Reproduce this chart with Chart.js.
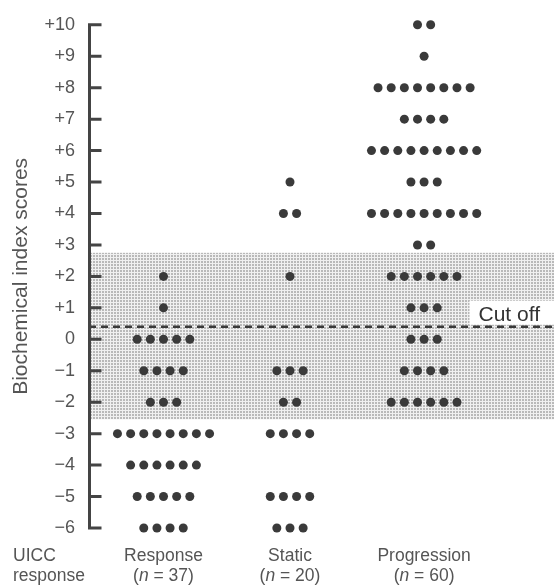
<!DOCTYPE html>
<html>
<head>
<meta charset="utf-8">
<script src="https://cdn.jsdelivr.net/npm/chart.js@4"></script>
<style>
  html, body { margin: 0; padding: 0; background: #fff; }
  #wrap { width: 554px; height: 586px; }
</style>
</head>
<body>
<div id="wrap"><canvas id="BiochemChart"></canvas></div>
<script>
// number of patients at each biochemical index score, per UICC response group
const scoreLevels       = [10, 9, 8, 7, 6, 5, 4, 3, 2, 1, 0, -1, -2, -3, -4, -5, -6];
const responseCounts    = [0, 0, 0, 0, 0, 0, 0, 0, 1, 1, 5, 4, 3, 8, 6, 5, 4];
const staticCounts      = [0, 0, 0, 0, 0, 1, 2, 0, 1, 0, 0, 3, 2, 4, 0, 4, 3];
const progressionCounts = [2, 1, 8, 4, 9, 3, 9, 2, 6, 3, 3, 4, 6, 0, 0, 0, 0];
const groupNames = ['Response', 'Static', 'Progression'];
const groupSizes = [37, 20, 60];
const cutOff = 0.4;
const bandTop = 2.75;
const bandBottom = -2.55;

const FONT = '"Liberation Sans", Arial, sans-serif';
const TEXT = '#555';

// where each group sits on the x scale and how far apart the dots are
const groupCentre = [1, 2, 3.06];
const dotStep = 0.104;

function buildDots(counts, g) {
  const pts = [];
  counts.forEach((n, i) => {
    for (let k = 0; k < n; k++) {
      pts.push({ x: groupCentre[g] + (k - (n - 1) / 2) * dotStep, y: scoreLevels[i] });
    }
  });
  return pts;
}

// small halftone tile for the shaded band
function dotScreen() {
  const c = document.createElement('canvas');
  c.width = 3; c.height = 3;
  const g = c.getContext('2d');
  g.fillStyle = '#f0f0f0';
  g.fillRect(0, 0, 3, 3);
  g.fillStyle = '#b9b9b9';
  g.fillRect(0, 0, 2, 2);
  return c;
}

const figureMarks = {
  id: 'figureMarks',
  beforeDatasetsDraw(chart) {
    const { ctx, chartArea: a, scales: { y } } = chart;
    const right = chart.width;
    ctx.save();

    // shaded band
    const t = y.getPixelForValue(bandTop), b = y.getPixelForValue(bandBottom);
    ctx.fillStyle = ctx.createPattern(dotScreen(), 'repeat');
    ctx.fillRect(a.left, t, right - a.left, b - t);

    // cut off line
    const cy = y.getPixelForValue(cutOff);
    ctx.strokeStyle = '#3a3a3a';
    ctx.lineWidth = 2.5;
    ctx.setLineDash([7, 5]);
    ctx.beginPath();
    ctx.moveTo(a.left, cy);
    ctx.lineTo(right, cy);
    ctx.stroke();
    ctx.setLineDash([]);

    ctx.font = '21px ' + FONT;
    const w = ctx.measureText('Cut off').width;
    ctx.fillStyle = '#fff';
    ctx.fillRect(right - w - 23, cy - 26, w + 23, 24);
    ctx.fillStyle = '#333';
    ctx.textBaseline = 'alphabetic';
    ctx.fillText('Cut off', right - w - 14, cy - 6);

    // y axis with inward ticks
    const x0 = a.left + 0.5;
    ctx.strokeStyle = '#444';
    ctx.lineWidth = 3;
    ctx.beginPath();
    ctx.moveTo(x0, y.getPixelForValue(10) - 1.5);
    ctx.lineTo(x0, y.getPixelForValue(-6) + 1.5);
    scoreLevels.forEach(v => {
      const py = y.getPixelForValue(v);
      ctx.moveTo(x0, py);
      ctx.lineTo(x0 + 12, py);
    });
    ctx.stroke();
    ctx.restore();
  },
  afterDraw(chart) {
    const { ctx, scales: { x } } = chart;
    ctx.save();
    ctx.fillStyle = TEXT;
    ctx.textBaseline = 'alphabetic';
    const up = '17.5px ' + FONT, it = 'italic 17.5px ' + FONT;

    ctx.textAlign = 'left';
    ctx.font = up;
    ctx.fillText('UICC', 13, 561);
    ctx.fillText('response', 13, 581);

    groupNames.forEach((name, g) => {
      const cx = x.getPixelForValue(groupCentre[g]);
      ctx.font = up;
      ctx.textAlign = 'center';
      ctx.fillText(name, cx, 561);

      // "(n = 37)" with an italic n
      const a = '(', b = 'n', c = ' = ' + groupSizes[g] + ')';
      ctx.textAlign = 'left';
      const wa = ctx.measureText(a).width, wc = ctx.measureText(c).width;
      ctx.font = it;
      const wb = ctx.measureText(b).width;
      let px = cx - (wa + wb + wc) / 2;
      ctx.font = up;
      ctx.fillText(a, px, 581);
      px += wa;
      ctx.font = it;
      ctx.fillText(b, px, 581);
      px += wb;
      ctx.font = up;
      ctx.fillText(c, px, 581);
    });
    ctx.restore();
  }
};

const dotStyle = { pointRadius: 4.5, pointHoverRadius: 4.5, pointBackgroundColor: '#3a3a3a', pointBorderWidth: 0, showLine: false, clip: false };

const ctx = document.getElementById('BiochemChart');

const BiochemChart = new Chart(ctx, {
  type: 'scatter',
  data: {
    datasets: [
      Object.assign({ label: groupNames[0], data: buildDots(responseCounts, 0) }, dotStyle),
      Object.assign({ label: groupNames[1], data: buildDots(staticCounts, 1) }, dotStyle),
      Object.assign({ label: groupNames[2], data: buildDots(progressionCounts, 2) }, dotStyle)
    ]
  },
  options: {
    responsive: true,
    maintainAspectRatio: false,
    animation: false,
    layout: { autoPadding: false, padding: { top: 20, right: 0, bottom: 58, left: 0 } },
    plugins: {
      legend: { display: false },
      tooltip: { enabled: false }
    },
    scales: {
      x: {
        type: 'linear',
        min: 0.411,
        max: 4.087,
        display: false
      },
      y: {
        type: 'linear',
        min: -6,
        max: 10,
        afterFit(s) { s.width = 89; },
        grid: { display: false, drawTicks: false },
        border: { display: false },
        ticks: {
          stepSize: 1,
          autoSkip: false,
          padding: 14,
          color: TEXT,
          font: { family: FONT, size: 18 },
          callback: v => v > 0 ? '+' + v : (v < 0 ? '\u2212' + (-v) : '0')
        },
        title: {
          display: true,
          text: 'Biochemical index scores',
          color: TEXT,
          font: { family: FONT, size: 21 },
          padding: { top: 9, bottom: 0 }
        }
      }
    }
  },
  plugins: [figureMarks]
});
</script>
</body>
</html>
